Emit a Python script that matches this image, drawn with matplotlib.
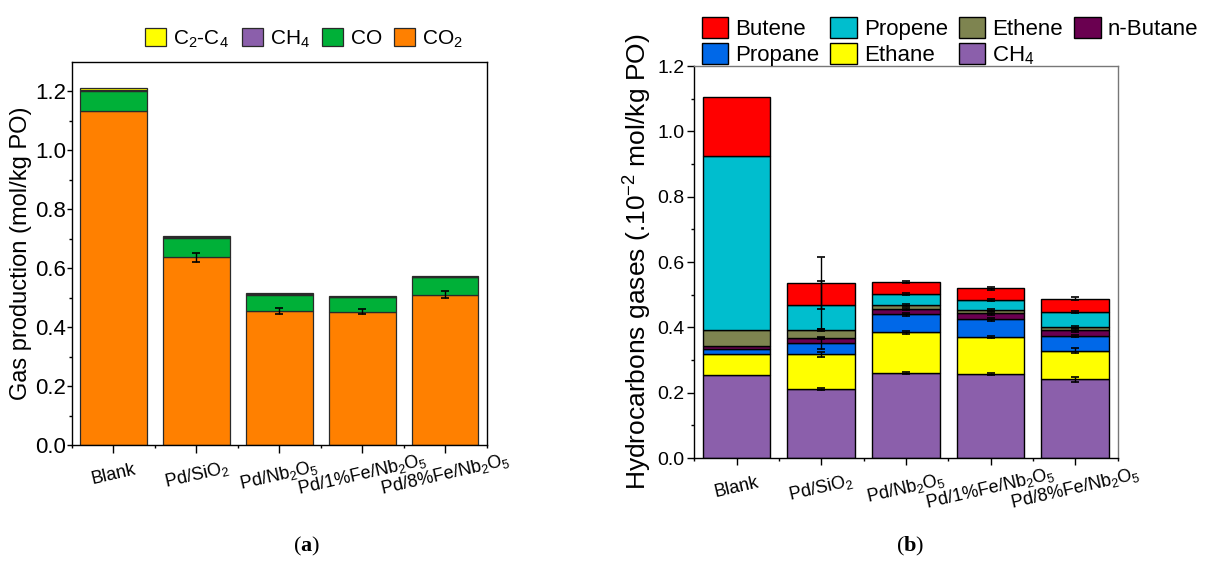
import numpy as np
import matplotlib.pyplot as plt

plt.rcParams['font.family'] = ['Liberation Sans', 'DejaVu Sans']
plt.rcParams['mathtext.fontset'] = 'custom'
plt.rcParams['mathtext.rm'] = 'Liberation Sans'
plt.rcParams['mathtext.it'] = 'Liberation Sans'
plt.rcParams['mathtext.bf'] = 'Liberation Serif:bold'

catalysts = ['Blank', 'Pd/SiO$_2$', 'Pd/Nb$_2$O$_5$',
             'Pd/1%Fe/Nb$_2$O$_5$', 'Pd/8%Fe/Nb$_2$O$_5$']

# (a) gas production, mol/kg PO
co2 = [1.135, 0.637, 0.456, 0.453, 0.510]
co2_err = [0.0, 0.015, 0.010, 0.007, 0.012]
co = [0.067, 0.067, 0.054, 0.048, 0.059]
ch4_a = [0.0025, 0.0021, 0.0026, 0.0026, 0.0024]
c2c4_a = [0.0085, 0.0032, 0.0028, 0.0026, 0.0025]

# (b) hydrocarbon gases, 10^-2 mol/kg PO (stacked from the bottom)
ch4 = [0.254, 0.211, 0.260, 0.257, 0.241]
ethane = [0.064, 0.107, 0.125, 0.113, 0.088]
propane = [0.017, 0.033, 0.055, 0.055, 0.045]
nbutane = [0.009, 0.017, 0.016, 0.018, 0.017]
ethene = [0.048, 0.024, 0.012, 0.009, 0.009]
propene = [0.532, 0.077, 0.035, 0.032, 0.046]
butene = [0.181, 0.066, 0.036, 0.035, 0.042]

ch4_err = [0.0, 0.002, 0.002, 0.004, 0.008]
ethane_err = [0.0, 0.008, 0.005, 0.004, 0.008]
propane_err = [0.0, 0.017, 0.004, 0.005, 0.004]
nbutane_err = [0.0, 0.004, 0.003, 0.004, 0.004]
ethene_err = [0.0, 0.003, 0.003, 0.003, 0.003]
propene_err = [0.0, 0.074, 0.003, 0.004, 0.003]
butene_err = [0.0, 0.080, 0.002, 0.004, 0.004]

fig = plt.figure(figsize=(12.2, 5.69), dpi=100)
axa = fig.add_axes([0.059, 0.218, 0.340, 0.673])
axb = fig.add_axes([0.569, 0.195, 0.347, 0.689])

x = np.arange(1, 6)
w = 0.8
ekw = dict(fmt='none', ecolor='black', elinewidth=1.0, capsize=3, capthick=1.2)


def style_axis(ax, ylim, label, lsize, ytick_size, xlen, ylen, ypad):
    ax.set_xlim(0.5, 5.5)
    ax.set_ylim(*ylim)
    ax.set_xticks(x)
    ax.set_xticks(np.arange(0.5, 5.6, 1.0), minor=True)
    ax.set_yticks(np.arange(0, 1.21, 0.2))
    ax.set_yticks(np.arange(0, 1.21, 0.1), minor=True)
    ax.yaxis.set_major_formatter(plt.FormatStrFormatter('%.1f'))
    ax.tick_params(axis='x', which='major', direction='out', length=xlen,
                   width=1, pad=21.5 - xlen)
    ax.tick_params(axis='x', which='minor', direction='out', length=2.5, width=1)
    ax.tick_params(axis='y', which='major', direction='out', length=ylen,
                   width=1, pad=ypad, labelsize=ytick_size)
    ax.tick_params(axis='y', which='minor', direction='out', length=2.5, width=1)
    ax.set_xticklabels(catalysts, rotation=13, ha='center', va='center',
                       rotation_mode='anchor', fontsize=13)
    ax.set_ylabel(label, fontsize=lsize, labelpad=2)
    for s in ax.spines.values():
        s.set_linewidth(1.0)


# ---- (a)
edge = dict(edgecolor='#2a2a2a', linewidth=0.9)
b = np.zeros(5)
h_co2 = axa.bar(x, co2, w, bottom=b, color='#FF8000', **edge)
axa.errorbar(x[1:], np.array(co2)[1:], yerr=np.array(co2_err)[1:], **ekw)
b += co2
h_co = axa.bar(x, co, w, bottom=b, color='#00B038', **edge)
b += co
h_ch4a = axa.bar(x, ch4_a, w, bottom=b, color='#8B5FAB', **edge)
b += ch4_a
h_c2c4 = axa.bar(x, c2c4_a, w, bottom=b, color='#FFFF00', **edge)

style_axis(axa, (0, 1.3), 'Gas production (mol/kg PO)', 17, 16, 6, 3.5, 0.8)
axa.legend([h_c2c4, h_ch4a, h_co, h_co2],
           ['C$_2$-C$_4$', 'CH$_4$', 'CO', 'CO$_2$'],
           ncol=4, loc='lower center', bbox_to_anchor=(0.56, 1.0),
           frameon=False, fontsize=15, handlelength=1.0, handleheight=1.0,
           handletextpad=0.35, columnspacing=0.6, borderaxespad=0.2)

# ---- (b)
layers = [
    ('CH$_4$', ch4, ch4_err, '#8B5FAB'),
    ('Ethane', ethane, ethane_err, '#FFFF00'),
    ('Propane', propane, propane_err, '#0068E8'),
    ('n-Butane', nbutane, nbutane_err, '#6A0050'),
    ('Ethene', ethene, ethene_err, '#7E8450'),
    ('Propene', propene, propene_err, '#00BECE'),
    ('Butene', butene, butene_err, '#FF0000'),
]
handles = {}
b = np.zeros(5)
for name, vals, err, col in layers:
    handles[name] = axb.bar(x, vals, w, bottom=b, color=col,
                            edgecolor='black', linewidth=1.0)
    b = b + np.array(vals)
    axb.errorbar(x[1:], b[1:], yerr=np.array(err)[1:], **ekw)

style_axis(axb, (0, 1.2), 'Hydrocarbons gases (.10$^{-2}$ mol/kg PO)', 19, 14, 5, 5, 2)
order = ['Butene', 'Propane', 'Propene', 'Ethane', 'Ethene', 'CH$_4$', 'n-Butane']
axb.legend([handles[k] for k in order], order, ncol=4, loc='lower left',
           bbox_to_anchor=(-0.003, 0.975), frameon=False, fontsize=16,
           handlelength=1.2, handleheight=1.1, handletextpad=0.3,
           columnspacing=0.5, labelspacing=0.15, borderaxespad=0.0)
axb.spines['top'].set_color('#777777')
axb.spines['right'].set_color('#777777')

fig.text(0.251, 0.03, r'($\mathbf{a}$)', ha='center', fontsize=16, family='Liberation Serif')
fig.text(0.746, 0.03, r'($\mathbf{b}$)', ha='center', fontsize=16, family='Liberation Serif')

fig.savefig('out.png', dpi=100)
